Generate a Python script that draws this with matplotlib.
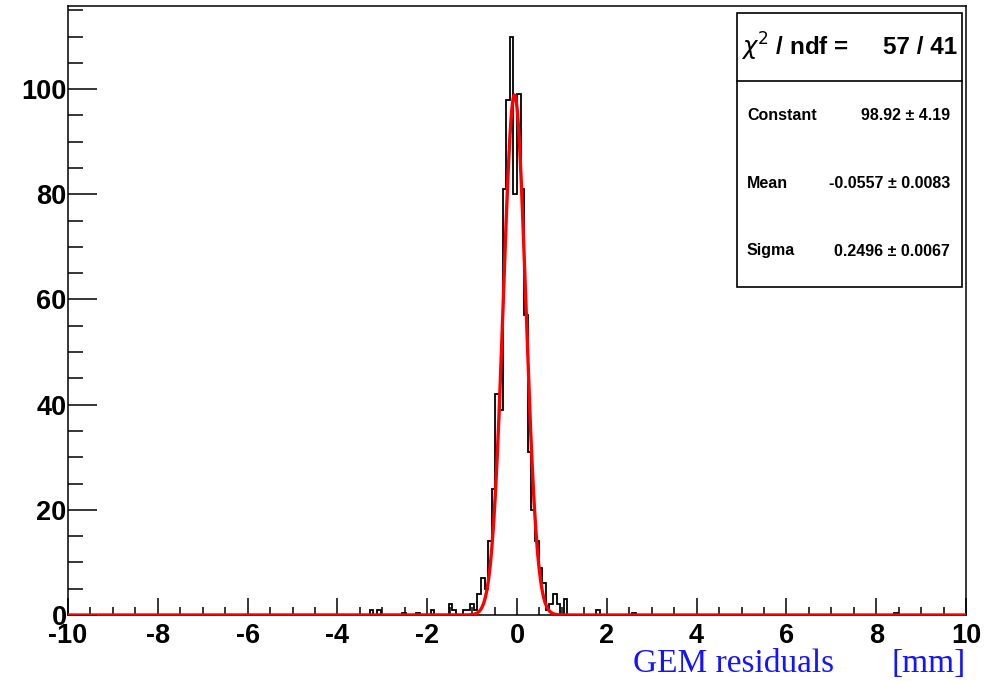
import numpy as np
import matplotlib
matplotlib.use('Agg')
import matplotlib.pyplot as plt
from matplotlib.patches import Rectangle
from matplotlib.ticker import MultipleLocator

plt.rcParams['font.family'] = ['Liberation Sans', 'DejaVu Sans']
plt.rcParams['mathtext.fontset'] = 'dejavusans'
plt.rcParams['axes.unicode_minus'] = False

# histogram: 250 bins of 0.08 mm between -10 and 10, only non-empty bins listed
bin_left = [-3.28, -3.12, -2.56, -2.24, -1.92, -1.52, -1.44, -1.20, -1.12, -1.04,
            -0.96, -0.88, -0.80, -0.72, -0.64, -0.56, -0.48, -0.40, -0.32, -0.24,
            -0.16, -0.08, 0.00, 0.08, 0.16, 0.24, 0.32, 0.40, 0.48, 0.56,
            0.64, 0.72, 0.80, 0.88, 1.00, 1.08, 1.76, 2.56, 8.40]
bin_count = [1, 1, 0.4, 0.4, 1, 2, 1, 1, 1, 2,
             1, 4, 7, 5, 14, 24, 42, 39, 81, 98,
             110, 80, 99, 81, 57, 31, 20, 14, 9, 6,
             1, 2, 4, 2, 1, 3, 1, 0.4, 0.4]

# gaussian fit parameters (stats box)
fit_const, fit_mean, fit_sigma = 98.92, -0.0557, 0.2496
stat_names = ['Constant', 'Mean', 'Sigma']
stat_values = ['98.92 \u00b1 4.19', '-0.0557 \u00b1 0.0083', '0.2496 \u00b1 0.0067']
chi2_text = '57 / 41'

W, H = 984, 681
fig = plt.figure(figsize=(W / 100, H / 100), dpi=100)
ax = fig.add_axes([68 / W, 1 - 615 / H, (966 - 68) / W, (615 - 6) / H])

edges = np.linspace(-10, 10, 251)
counts = np.zeros(250)
for left, c in zip(bin_left, bin_count):
    counts[int(round((left + 10) / 0.08))] = c

ax.stairs(counts, edges, color='black', lw=1.3, zorder=2)

xf = np.linspace(-10, 10, 1001)
yf = fit_const * np.exp(-0.5 * ((xf - fit_mean) / fit_sigma) ** 2)
ax.plot(xf, yf, color='red', lw=2.4, zorder=3, solid_joinstyle='round')

ax.set_xlim(-10, 10)
ax.set_ylim(0, 115.8)
ax.xaxis.set_major_locator(MultipleLocator(2))
ax.xaxis.set_minor_locator(MultipleLocator(0.5))
ax.yaxis.set_major_locator(MultipleLocator(20))
ax.yaxis.set_minor_locator(MultipleLocator(5))
ax.tick_params(axis='both', which='both', direction='in', top=False, right=False, width=1.1)
ax.tick_params(axis='x', which='major', length=12.5, pad=6)
ax.tick_params(axis='x', which='minor', length=6)
ax.tick_params(axis='y', which='major', length=21, pad=1)
ax.tick_params(axis='y', which='minor', length=11)
for lab in ax.get_xticklabels() + ax.get_yticklabels():
    lab.set_fontsize(19.5)
    lab.set_fontweight('bold')
for s in ax.spines.values():
    s.set_linewidth(1.1)

# axis title, right aligned under the axis
fig.text(834 / W, 1 - 672 / H, 'GEM residuals', color='#1414ff', ha='right', va='baseline',
         fontsize=24, family='Liberation Serif')
fig.text(966 / W, 1 - 672 / H, '[mm]', color='#1414ff', ha='right', va='baseline',
         fontsize=24, family='Liberation Serif')

# stats box
def fx(x):
    return x / W

def fy(y):
    return 1 - y / H

fig.patches.append(Rectangle((fx(737), fy(287)), fx(962) - fx(737), fy(13) - fy(287),
                             transform=fig.transFigure, facecolor='white',
                             edgecolor='black', lw=1.2, zorder=5))
fig.lines.append(plt.Line2D([fx(737), fx(962)], [fy(81), fy(81)], transform=fig.transFigure,
                            color='black', lw=1.2, zorder=6))
fig.text(fx(741), fy(47), r'$\chi^{2}$ / ndf =', fontsize=17.5, fontweight='bold',
         ha='left', va='center', zorder=7)
fig.text(fx(957), fy(47), chi2_text, fontsize=17.5, fontweight='bold',
         ha='right', va='center', zorder=7)
for name, val, yy in zip(stat_names, stat_values, [115, 184, 251]):
    fig.text(fx(747), fy(yy), name, fontsize=11.5, fontweight='bold', ha='left', va='center', zorder=7)
    fig.text(fx(950), fy(yy), val, fontsize=11.5, fontweight='bold', ha='right', va='center', zorder=7)

fig.savefig('out.png', dpi=100)
